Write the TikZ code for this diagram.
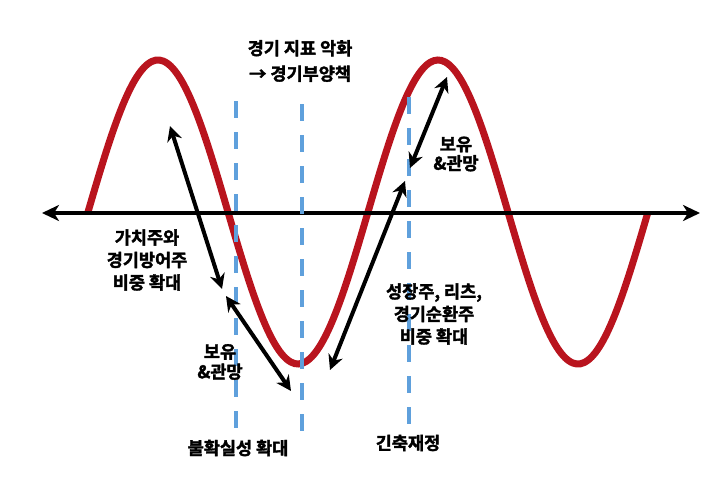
\documentclass[tikz,border=0pt]{standalone}
\usepackage{fontspec}
\setmainfont{Noto Sans CJK KR}[BoldFont={Noto Sans CJK KR Bold}, BoldFeatures={FakeBold=2}]
\usetikzlibrary{arrows.meta}
\definecolor{wavered}{RGB}{185,20,30}
\definecolor{cutblue}{RGB}{95,160,220}

\begin{document}
\begin{tikzpicture}[x=1pt,y=-1pt,
  wave/.style={wavered, line width=7pt},
  cut/.style={cutblue, line width=3.5pt, dash pattern=on 17pt off 14pt},
  move/.style={{Stealth[length=15pt,width=15pt]}-{Stealth[length=15pt,width=15pt]}, line width=4pt},
  lbl/.style={font=\bfseries\fontsize{17.5}{22.5}\selectfont, align=center, inner sep=0pt}]
\useasboundingbox (0,0) rectangle (720,479);
% business cycle
\draw[wave] plot[domain=88:648, samples=150, smooth] (\x,{212-152*sin(1.285714*(\x-88))});
% time axis
\coordinate (axL) at (42,213);
\coordinate (axR) at (700,213);
\draw[{Stealth[length=17pt,width=16pt,inset=5pt]}-{Stealth[length=17pt,width=16pt,inset=5pt]}, line width=4.5pt] (axL) -- (axR);
% turning points
\foreach \x/\ya/\yb [count=\i] in {236/101/430, 302/104/437, 409/97/425} {
    \coordinate (cutT\i) at (\x,\ya);
    \coordinate (cutB\i) at (\x,\yb);
    \draw[cut] (cutT\i) -- (cutB\i);
}
% phases
\coordinate (p1a) at (170,126);
\coordinate (p1b) at (222,289);
\coordinate (p2a) at (226,296);
\coordinate (p2b) at (291,391);
\coordinate (p3a) at (330,370);
\coordinate (p3b) at (405,181);
\coordinate (p4a) at (410,168);
\coordinate (p4b) at (447,77);
\draw[move] (p1a) -- (p1b);
\draw[move] (p2a) -- (p2b);
\draw[move] (p3a) -- (p3b);
\draw[move] (p4a) -- (p4b);
% labels
\node[lbl] (signal) at (300,61) {경기 지표 악화\\[3pt]→ 경기부양책};
\node[lbl] (value) at (147,260) {가치주와\\경기방어주\\비중 확대};
\node[lbl] (growth) at (434,314) {성장주, 리츠,\\경기순환주\\비중 확대};
\node[lbl, font=\bfseries\fontsize{17.5}{20}\selectfont] (holdL) at (220,362) {보유\\\&관망};
\node[lbl, font=\bfseries\fontsize{17.5}{19}\selectfont] (holdR) at (456,154) {보유\\\&관망};
\node[lbl] (risk) at (238,448) {불확실성 확대};
\node[lbl] (tight) at (408,443) {긴축재정};
\end{tikzpicture}
\end{document}
